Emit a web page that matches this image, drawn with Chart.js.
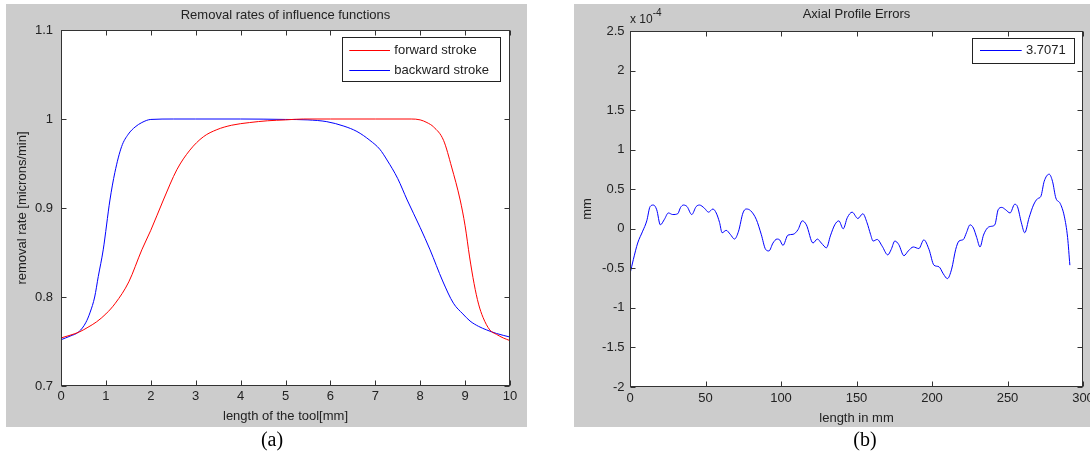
<!DOCTYPE html>
<html><head><meta charset="utf-8">
<script src="https://cdn.jsdelivr.net/npm/chart.js@4.4.0/dist/chart.umd.min.js"></script>
<style>
html,body{margin:0;padding:0;background:#fff;width:1090px;height:453px;overflow:hidden;position:relative;}
.panel{position:absolute;top:4px;height:423px;background:#cccccc;}
#pa{left:6px;width:521px;}
#pb{left:574px;width:516px;}
canvas{display:block;}
.cap{position:absolute;top:426px;font-family:"Liberation Serif","Times New Roman",serif;font-size:20px;line-height:26px;color:#000;transform:translateX(-50%);white-space:nowrap;}
</style></head><body>
<div class="panel" id="pa"><canvas id="ca" width="521" height="423"></canvas></div>
<div class="panel" id="pb"><canvas id="cb" width="516" height="423"></canvas></div>
<div class="cap" style="left:272px">(a)</div>
<div class="cap" style="left:865px">(b)</div>
<script>
// ---------- Chart (a): removal rates ----------
const titleA = "Removal rates of influence functions";
const xLabelA = "length of the tool[mm]";
const yLabelA = "removal rate [microns/min]";
const forwardLabel = "forward stroke";
const backwardLabel = "backward stroke";
const forwardX = [0,0.2,0.42,0.6,0.79,1.0,1.21,1.51,1.8,2.0,2.28,2.58,2.87,3.17,3.47,3.8,4.2,4.6,5.0,5.4,6,7,7.8,8.0,8.15,8.3,8.52,8.7,8.89,9.0,9.1,9.2,9.3,9.4,9.55,9.7,9.85,10];
const forwardRate = [0.754,0.757,0.761,0.766,0.772,0.781,0.793,0.817,0.853,0.875,0.909,0.943,0.965,0.980,0.988,0.993,0.996,0.998,0.999,1.0,1.0,1.0,1.0,0.999,0.996,0.991,0.976,0.946,0.909,0.88,0.845,0.815,0.792,0.777,0.763,0.758,0.754,0.751];
const backwardX = [0,0.2,0.4,0.55,0.65,0.75,0.83,0.94,1.09,1.2,1.35,1.5,1.65,1.8,2.0,2.5,3,4,5,5.5,5.92,6.3,6.59,6.88,7.1,7.26,7.5,7.71,8.0,8.22,8.5,8.74,8.95,9.11,9.3,9.48,9.7,10];
const backwardRate = [0.752,0.756,0.761,0.771,0.783,0.800,0.823,0.853,0.909,0.940,0.969,0.983,0.991,0.996,0.9995,1.0,1.0,1.0,0.9995,0.999,0.997,0.992,0.986,0.976,0.966,0.954,0.933,0.909,0.878,0.853,0.818,0.793,0.781,0.773,0.767,0.763,0.759,0.755];
const xTicksA = [0,1,2,3,4,5,6,7,8,9,10];
const yTicksA = [0.7,0.8,0.9,1.0,1.1];

// ---------- Chart (b): axial profile errors ----------
const titleB = "Axial Profile Errors";
const xLabelB = "length in mm";
const yLabelB = "mm";
const errorLabel = "3.7071";
const lengthMM = [0,2.2,5.1,8.4,11.1,13.3,15.5,17.7,20.1,22.8,25.4,28.3,31.6,33.5,35.4,37.8,40.9,43.8,46.0,49.3,52.0,54.9,57.1,59.3,61.0,63.7,66.4,69.2,71.9,74.8,77.0,79.8,83.6,86.9,89.8,92.0,94.7,97.3,99.1,101.3,104.6,108.0,111.3,114.1,116.8,121.2,124.1,126.7,130.1,132.7,135.6,138.3,141.2,143.9,147.1,150.9,154.2,157.0,159.3,161.0,163.7,167.0,170.7,173.0,175.4,178.0,181.4,184.3,187.6,191.3,194.6,198.0,201.3,204.6,207.5,210.2,213.0,215.7,217.9,220.8,222.8,225.2,227.4,229.6,231.8,234.1,236.7,238.9,241.6,243.8,246.2,248.8,251.7,254.8,256.6,259.2,261.4,264.3,267.2,269.9,272.1,274.3,277.6,279.8,282.0,284.9,287.6,289.8,291.3];
// values in units of 1e-4 mm
const profileErr = [-0.57,-0.39,-0.18,-0.03,0.10,0.28,0.30,0.24,0.05,0.12,0.20,0.18,0.19,0.27,0.30,0.28,0.18,0.28,0.30,0.26,0.21,0.25,0.20,0.08,-0.05,-0.02,-0.07,-0.13,-0.03,0.20,0.25,0.23,0.12,-0.07,-0.26,-0.28,-0.18,-0.13,-0.14,-0.21,-0.08,-0.07,-0.01,0.10,0.05,-0.18,-0.13,-0.18,-0.24,-0.09,0.05,0.10,0.00,0.14,0.21,0.13,0.19,0.075,-0.07,-0.155,-0.135,-0.22,-0.33,-0.26,-0.155,-0.20,-0.34,-0.28,-0.23,-0.25,-0.14,-0.26,-0.46,-0.48,-0.57,-0.63,-0.51,-0.26,-0.155,-0.135,-0.05,0.05,0.01,-0.11,-0.23,-0.08,0.01,0.03,0.05,0.24,0.27,0.24,0.20,0.31,0.28,0.075,-0.05,0.14,0.30,0.38,0.41,0.60,0.69,0.60,0.39,0.32,0.16,-0.11,-0.46];
const xTicksB = [0,50,100,150,200,250,300];
const yTicksB = [-2,-1.5,-1,-0.5,0,0.5,1,1.5,2,2.5];

const FONT = '"Liberation Sans", Arial, sans-serif';
const TXT = '#222';

function pts(xs, ys){ return xs.map((x,i)=>({x:x, y:ys[i]})); }

const matlabAxes = {
  id:'matlabAxes',
  beforeDraw(chart){
    const a = chart.chartArea, ctx = chart.ctx;
    ctx.save(); ctx.fillStyle = '#fff';
    ctx.fillRect(a.left, a.top, a.right-a.left, a.bottom-a.top);
    ctx.restore();
  },
  afterDatasetsDraw(chart, args, o){
    const {ctx, chartArea:a, scales} = chart;
    ctx.save();
    ctx.strokeStyle = '#333'; ctx.lineWidth = 1;
    const L = 5;
    const line=(x1,y1,x2,y2)=>{ctx.beginPath();ctx.moveTo(x1,y1);ctx.lineTo(x2,y2);ctx.stroke();};
    const l = Math.round(a.left)+0.5, r = Math.round(a.right)-0.5, t = Math.round(a.top)+0.5, b = Math.round(a.bottom)-0.5;
    scales.x.ticks.forEach(tk=>{
      const px = Math.round(scales.x.getPixelForValue(tk.value))+0.5;
      line(px,b,px,b-L); line(px,t,px,t+L);
    });
    scales.y.ticks.forEach(tk=>{
      const py = Math.round(scales.y.getPixelForValue(tk.value))+0.5;
      line(l,py,l+L,py); line(r,py,r-L,py);
    });
    ctx.strokeRect(l, t, r-l, b-t);
    // title
    ctx.fillStyle = TXT; ctx.font = '13px ' + FONT;
    ctx.textAlign = 'center'; ctx.textBaseline = 'middle';
    ctx.fillText(o.title, (a.left+a.right)/2, o.titleY);
    // multiplier
    if (o.mult){
      ctx.textAlign='left'; ctx.textBaseline='alphabetic';
      ctx.font = '12px ' + FONT;
      ctx.fillText(o.mult[0], a.left, o.mult[2]);
      const w = ctx.measureText(o.mult[0]).width;
      ctx.font = '10px ' + FONT;
      ctx.fillText(o.mult[1], a.left + w, o.mult[2]-7);
    }
    // legend
    const lg = o.legend;
    const bx = a.right - lg.dx, by = a.top + lg.dy;
    ctx.fillStyle = '#fff';
    ctx.fillRect(bx, by, lg.w, lg.h);
    ctx.strokeStyle = '#222';
    ctx.strokeRect(Math.round(bx)+0.5, Math.round(by)+0.5, Math.round(lg.w), Math.round(lg.h));
    ctx.font = '13px ' + FONT; ctx.textAlign='left'; ctx.textBaseline='middle';
    chart.data.datasets.forEach((ds,i)=>{
      const cy = Math.round(by + lg.row0 + i*lg.rowH)+0.5;
      ctx.strokeStyle = ds.borderColor; ctx.lineWidth = 1;
      line(bx+lg.l0, cy, bx+lg.l1, cy);
      ctx.fillStyle = TXT;
      ctx.fillText(ds.label, bx+lg.tx, cy);
    });
    ctx.restore();
  }
};

function makeChart(id, datasets, cfg){
  return new Chart(document.getElementById(id), {
    type:'line',
    data:{datasets:datasets},
    options:{
      responsive:false, animation:false, events:[],
      layout:{padding:{left:0, top:cfg.padTop, right:cfg.padRight, bottom:0}},
      elements:{point:{radius:0}, line:{borderWidth:1, cubicInterpolationMode:'monotone'}},
      plugins:{legend:{display:false}, tooltip:{enabled:false}, matlabAxes:cfg.plug},
      scales:{
        x:{type:'linear', min:cfg.xTicks[0], max:cfg.xTicks[cfg.xTicks.length-1],
          grid:{display:false, drawTicks:false, tickLength:0}, border:{display:false},
          afterBuildTicks:s=>{s.ticks = cfg.xTicks.map(v=>({value:v}));},
          afterFit:s=>{s.height = cfg.xH; s.paddingLeft=0; s.paddingRight=0;},
          ticks:{color:TXT, font:{family:FONT, size:13}, padding:cfg.xTickPad, maxRotation:0, autoSkip:false, callback:v=>String(v)},
          title:{display:true, text:cfg.xLabel, color:TXT, font:{family:FONT, size:13}, padding:{top:0,bottom:cfg.xTitlePad}}
        },
        y:{type:'linear', min:cfg.yTicks[0], max:cfg.yTicks[cfg.yTicks.length-1],
          grid:{display:false, drawTicks:false, tickLength:0}, border:{display:false},
          afterBuildTicks:s=>{s.ticks = cfg.yTicks.map(v=>({value:v}));},
          afterFit:s=>{s.width = cfg.yW; s.paddingTop=0; s.paddingBottom=0;},
          ticks:{color:TXT, font:{family:FONT, size:13}, padding:cfg.yTickPad, autoSkip:false, callback:v=>String(v)},
          title:{display:true, text:cfg.yLabel, color:TXT, font:{family:FONT, size:13}, padding:{top:cfg.yTitlePad,bottom:0}}
        }
      }
    },
    plugins:[matlabAxes]
  });
}

makeChart('ca', [
  {label:forwardLabel, data:pts(forwardX, forwardRate), borderColor:'rgb(255,0,0)', backgroundColor:'rgb(255,0,0)', fill:false},
  {label:backwardLabel, data:pts(backwardX, backwardRate), borderColor:'rgb(0,0,255)', backgroundColor:'rgb(0,0,255)', fill:false}
], {padTop:26, padRight:17, xH:41, yW:55, xTicks:xTicksA, yTicks:yTicksA, xLabel:xLabelA, yLabel:yLabelA,
    xTickPad:3, yTickPad:8, xTitlePad:2.5, yTitlePad:8.5,
    plug:{title:titleA, titleY:11, legend:{dx:168.3, dy:7.3, w:157.6, h:43.7, row0:12.7, rowH:20, l0:7.6, l1:48.3, tx:52.6}}});

makeChart('cb', [
  {label:errorLabel, data:pts(lengthMM, profileErr), borderColor:'rgb(0,0,255)', backgroundColor:'rgb(0,0,255)', fill:false}
], {padTop:27, padRight:7, xH:40, yW:56, xTicks:xTicksB, yTicks:yTicksB, xLabel:xLabelB, yLabel:yLabelB,
    xTickPad:4, yTickPad:5.5, xTitlePad:0.5, yTitlePad:5.4,
    plug:{title:titleB, titleY:10.5, mult:['x 10','-4',19], legend:{dx:111.3, dy:6.7, w:101.6, h:24.6, row0:12.3, rowH:20, l0:8.3, l1:50, tx:54.3}}});
</script>
</body></html>
